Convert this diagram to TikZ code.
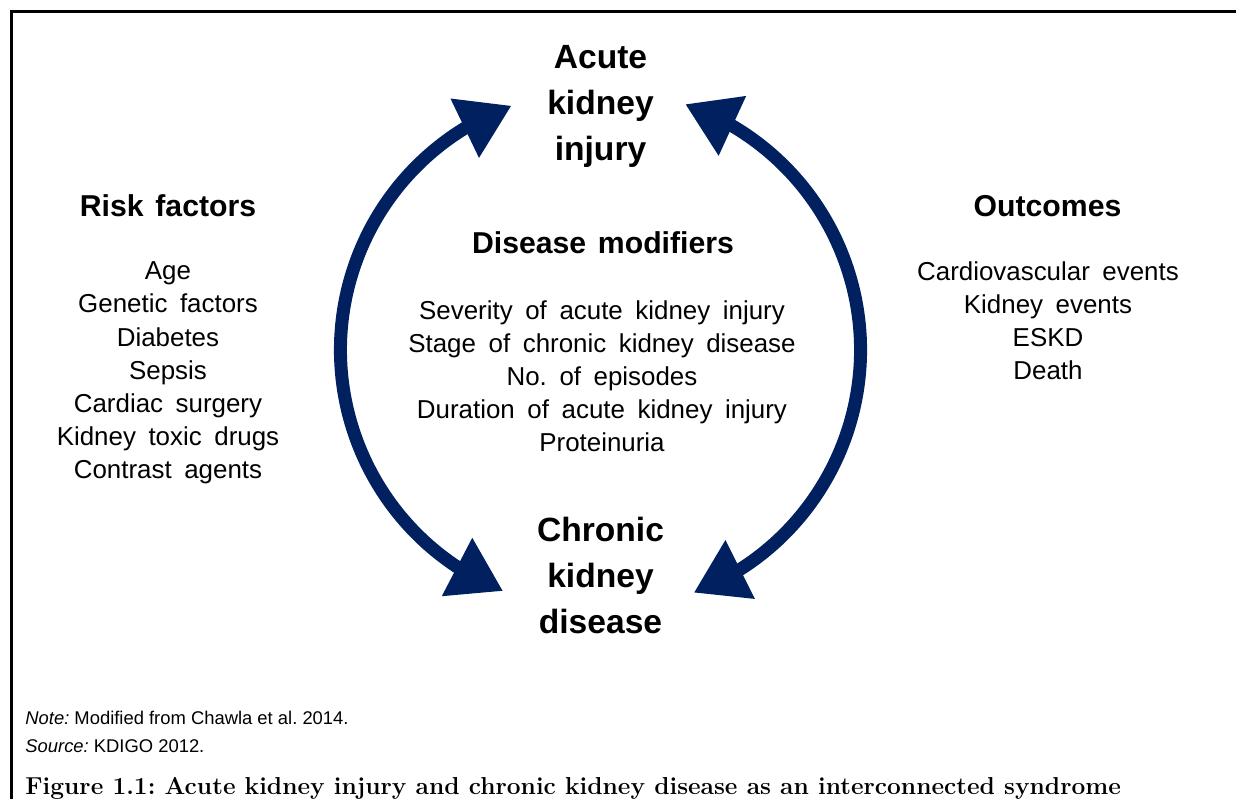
\documentclass[tikz,border=0pt]{standalone}
\usepackage{fontspec}
\setsansfont{Liberation Sans}
\usetikzlibrary{arrows.meta,bending,calc,positioning}
\definecolor{akinavy}{RGB}{0,32,96}
\frenchspacing
\newcommand\headfont{\fontsize{15.1}{18}\selectfont\sffamily\bfseries\spaceskip=5.9pt\relax}
\newcommand\listfont{\fontsize{12.95}{16.6}\selectfont\sffamily\spaceskip=6.3pt\relax}
\tikzset{
  cycle arrow/.style={akinavy, line width=6.5pt,
    {Triangle[length=26pt,width=31pt]}-{Triangle[length=26pt,width=31pt]}},
  kidney title/.style={font=\fontsize{16.8}{23}\selectfont\sffamily\bfseries, align=center, anchor=base},
  group title/.style={font=\headfont, anchor=base},
  group list/.style={font=\listfont, align=center, anchor=base},
  note text/.style={font=\fontsize{9.2}{11}\selectfont\sffamily, anchor=base west},
  fig caption/.style={font=\fontsize{12.25}{14}\selectfont\rmfamily\bfseries, anchor=base west}
}
\begin{document}
\begin{tikzpicture}[x=0.5pt, y=0.5pt, every node/.style={inner sep=0pt}]
\useasboundingbox (0,0) rectangle (1236,798);
% frame
\draw[line width=1.5pt] (11.5,-10) -- (11.5,786.5) -- (1250,786.5);

\coordinate (hub) at (600.5,448);

% anchors sit on the last line of each block
\node[kidney title] (aki) at (600.5,637) {Acute\\kidney\\injury};
\node[kidney title] (ckd) at (600.5,165) {Chronic\\kidney\\disease};

\draw[cycle arrow] ($(hub)+(248:260)$) arc[start angle=248, end angle=110, radius=260];
\draw[cycle arrow] ($(hub)+(-69:260)$) arc[start angle=-69, end angle=71, radius=260];

\node[group title] (risk) at (168,581) {Risk factors};
\node[group list] (risklist) at (168,319) {Age\\Genetic factors\\Diabetes\\Sepsis\\Cardiac surgery\\Kidney toxic drugs\\Contrast agents};

\node[group title] (mods) at (603,544) {Disease modifiers};
\node[group list] (modlist) at (602,346) {Severity of acute kidney injury\\Stage of chronic kidney disease\\No. of episodes\\Duration of acute kidney injury\\Proteinuria};

\node[group title] (outc) at (1047.5,581) {Outcomes};
\node[group list] (outlist) at (1048,418) {Cardiovascular events\\Kidney events\\ESKD\\Death};

\node[note text] (note) at (25,74) {\textit{Note:} Modified from Chawla et al. 2014.};
\node[note text] (source) at (25,46) {\textit{Source:} KDIGO 2012.};
\node[fig caption] (caption) at (25,4) {Figure 1.1: Acute kidney injury and chronic kidney disease as an interconnected syndrome};
\end{tikzpicture}
\end{document}
